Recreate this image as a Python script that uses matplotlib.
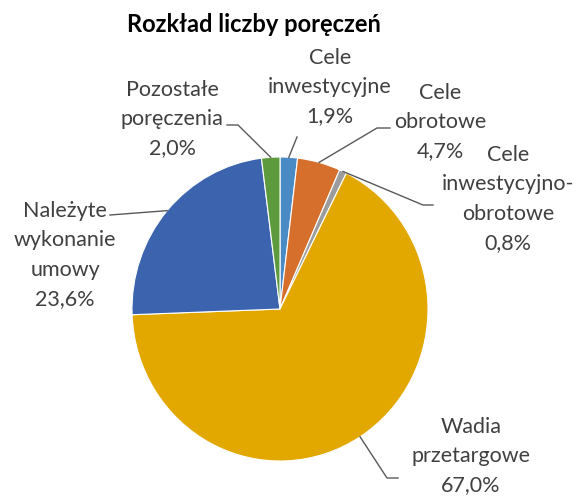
import numpy as np
import matplotlib
matplotlib.use("Agg")
import matplotlib.pyplot as plt
from matplotlib.lines import Line2D

title = "Rozkład liczby poręczeń"
categories = ["Cele\ninwestycyjne", "Cele\nobrotowe", "Cele\ninwestycyjno-\nobrotowe",
              "Wadia\nprzetargowe", "Należyte\nwykonanie\numowy", "Pozostałe\nporęczenia"]
values = [1.9, 4.7, 0.8, 67.0, 23.6, 2.0]
value_labels = ["1,9%", "4,7%", "0,8%", "67,0%", "23,6%", "2,0%"]
colors = ["#4A8BC6", "#D66F2B", "#9C9C9C", "#E2A800", "#3C64AE", "#5C9A3D"]

# layout (pixels in the 577x497 canvas)
W, H = 577, 497
label_pos = [(330, 85), (440, 120), (508, 197), (471, 454), (65, 253), (172, 117)]
line_step = 29.3
elbows = [None, ((377, 128), (390, 128)), ((423, 205), (433, 205)),
          ((387, 478), (398, 478)), ((123, 214), (110, 215)), ((238, 125), (227, 125))]
line_end = [(297, 137), None, None, None, None, None]

plt.rcParams['font.family'] = ['Lato', 'DejaVu Sans']
fig = plt.figure(figsize=(W / 100, H / 100), dpi=100)
cx, cy, rx, ry = 280, 309, 148, 152
ax = fig.add_axes([(cx - rx) / W, (H - cy - ry) / H, 2 * rx / W, 2 * ry / H])
wedges, _ = ax.pie(values, colors=colors, startangle=90, counterclock=False,
                   wedgeprops=dict(edgecolor="white", linewidth=0.8))
ax.set_aspect("auto")
ax.set_xlim(-1, 1)
ax.set_ylim(-1, 1)
ax.axis("off")

def px(x, y):
    return (x / W, 1 - y / H)

fig.text(*px(254, 25), title, ha="center", va="center", fontsize=17,
         fontweight="bold", color="black")

txt_color = "#404040"
for i, w in enumerate(wedges):
    ang = np.deg2rad((w.theta1 + w.theta2) / 2)
    edge = ax.transData.transform((np.cos(ang), np.sin(ang)))
    ex, ey = fig.transFigure.inverted().transform(edge)
    pts = [(ex, ey)]
    if elbows[i] is not None:
        pts += [px(*elbows[i][0]), px(*elbows[i][1])]
    else:
        pts += [px(*line_end[i])]
    xs, ys = zip(*pts)
    fig.add_artist(Line2D(xs, ys, transform=fig.transFigure, color="#595959", lw=1))
    lines = categories[i].split("\n") + [value_labels[i]]
    n = len(lines)
    lx, ly = label_pos[i]
    for k, s in enumerate(lines):
        yk = ly + (k - (n - 1) / 2) * line_step
        fig.text(*px(lx, yk), s, ha="center", va="center_baseline",
                 fontsize=15.5, color=txt_color)

fig.savefig("out.png", dpi=100, facecolor="white")
